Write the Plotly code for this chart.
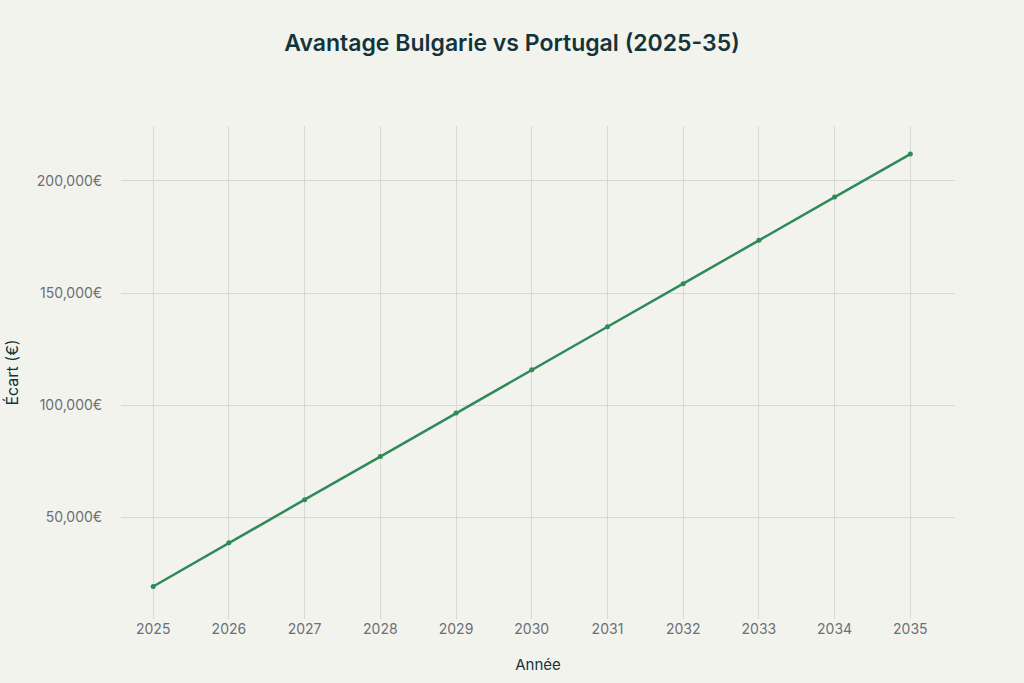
import plotly.graph_objects as go

years = [2025, 2026, 2027, 2028, 2029, 2030, 2031, 2032, 2033, 2034, 2035]
ecart = [19200, 38700, 57900, 77100, 96500, 115800, 135000, 154200, 173600, 192800, 212000]
y_ticks = [50000, 100000, 150000, 200000]
y_tick_labels = ["50,000€", "100,000€", "150,000€", "200,000€"]

fig = go.Figure()
fig.add_trace(go.Scatter(
    x=years, y=ecart, mode="lines+markers",
    line=dict(color="#2e8b57", width=2.5),
    marker=dict(color="#2e8b57", size=5),
    showlegend=False,
))

fig.update_layout(
    width=1024, height=683,
    paper_bgcolor="#f3f3ee", plot_bgcolor="#f3f3ee",
    margin=dict(l=118, r=69, t=126, b=63),
    font=dict(family="Inter, Liberation Sans, sans-serif", color="#6b6f76", size=13),
    title=dict(text="Avantage Bulgarie vs Portugal (2025-35)", x=0.5, xanchor="center",
               y=0.937, yanchor="middle",
               font=dict(size=23, color="#13343b", weight=600)),
)
fig.update_xaxes(
    title=dict(text="Année", font=dict(size=15, color="#13343b"), standoff=23),
    tickvals=years, ticktext=[str(y) for y in years],
    range=[2024.575, 2035.59],
    showgrid=True, gridcolor="#d9d9d4", gridwidth=1,
    zeroline=False, showline=False,
    ticks="", ticklen=0,
    tickfont=dict(size=14),
)
fig.update_yaxes(
    title=dict(text="Écart (€)", font=dict(size=16, color="#13343b"), standoff=14),
    tickvals=y_ticks, ticktext=y_tick_labels,
    range=[4700, 224500],
    showgrid=True, gridcolor="#d9d9d4", gridwidth=1,
    zeroline=False, showline=False,
    ticks="outside", ticklen=15, tickcolor="rgba(0,0,0,0)",
    tickfont=dict(size=14),
)

fig.write_html("out.html", config={"displayModeBar": False})

with open("out.html", "r", encoding="utf-8") as f:
    html = f.read()
html = html.replace("<head>", "<head><style>html,body{margin:0;padding:0;overflow:hidden;}</style>", 1)
with open("out.html", "w", encoding="utf-8") as f:
    f.write(html)
